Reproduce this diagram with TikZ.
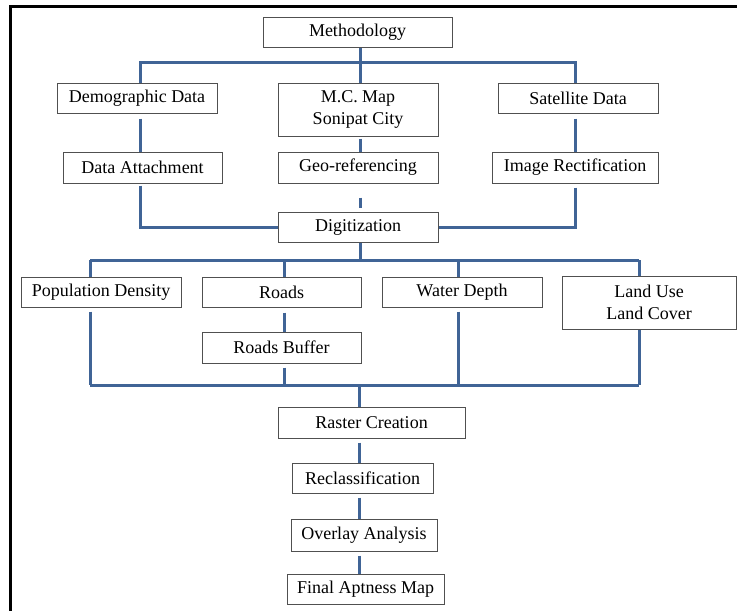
\documentclass[tikz,border=0pt]{standalone}
\usepackage{fontspec}
\setmainfont{Liberation Serif}
\usetikzlibrary{calc,positioning}
\definecolor{linkblue}{RGB}{64,100,150}
\definecolor{boxgray}{RGB}{80,80,80}
\tikzset{
    box/.style={draw=boxgray, line width=1pt, inner sep=0pt, minimum height=30pt,
        align=center, font=\fontsize{18}{21.5}\selectfont},
    link/.style={line width=3pt, color=linkblue},
}

\begin{document}
\begin{tikzpicture}[x=1pt,y=-1pt]
    \useasboundingbox (0,0) rectangle (737,611);

    % Draw frame.
    \draw[line width=3pt] (10,611) -- (10,6) -- (737,6);

    % Draw input boxes.
    \node[box, minimum width=189pt] (meth) at (357.5,32.5) {Methodology};
    \node[box, minimum width=160pt] (demo) at (137,98) {Demographic Data};
    \node[box, minimum width=160pt, minimum height=53pt] (mcmap) at (358,109.5) {M.C. Map\\Sonipat City};
    \node[box, minimum width=160pt] (sat) at (578,98) {Satellite Data};
    \node[box, minimum width=159pt, minimum height=31pt] (attach) at (142.5,167.5) {Data Attachment};
    \node[box, minimum width=160pt, minimum height=31pt] (georef) at (358,167.5) {Geo-referencing};
    \node[box, minimum width=166pt, minimum height=31pt] (rect) at (575,167.5) {Image Rectification};
    \node[box, minimum width=160pt] (digit) at (358,227) {Digitization};

    % Draw layer boxes.
    \node[box, minimum width=160pt] (popd) at (101,292) {Population Density};
    \node[box, minimum width=159pt] (roads) at (281.5,292) {Roads};
    \node[box, minimum width=160pt] (water) at (462,292) {Water Depth};
    \node[box, minimum width=174pt, minimum height=53pt] (landuse) at (649,302.5) {Land Use\\Land Cover};
    \node[box, minimum width=159pt, minimum height=31pt] (roadsbuf) at (281.5,347.5) {Roads Buffer};

    % Draw analysis boxes.
    \node[box, minimum width=187pt, minimum height=31pt] (raster) at (371.5,422.5) {Raster Creation};
    \node[box, minimum width=141pt] (reclass) at (362.5,478) {Reclassification};
    \node[box, minimum width=146pt, minimum height=32pt] (overlay) at (364,535) {Overlay Analysis};
    \node[box, minimum width=157pt] (final) at (365.5,589) {Final Aptness Map};

    % Columns and buses of the connectors.
    \coordinate (colA) at (140,0);
    \coordinate (colB) at (360,0);
    \coordinate (colC) at (575,0);
    \coordinate (colD) at (359,0);
    \coordinate (busA) at (0,62);
    \coordinate (busB) at (0,260);
    \coordinate (busD) at (0,385);
    \foreach \n/\x in {popd/90,roads/284,water/458,landuse/639}
        \coordinate (x\n) at (\x,0);

    % Connect inputs to digitization.
    \draw[link] (colA |- demo.north) -- (colA |- busA) -- (colC |- busA) -- (colC |- sat.north);
    \draw[link] (colB |- meth.south) -- (colB |- mcmap.north);
    \draw[link, shorten <=5pt] (colA |- demo.south) -- (colA |- attach.north);
    \draw[link, shorten <=2pt] (colB |- mcmap.south) -- (colB |- georef.north);
    \draw[link, shorten <=5pt] (colC |- sat.south) -- (colC |- rect.north);
    \draw[link, shorten <=2pt] (colA |- attach.south) |- (digit.west);
    \draw[link, shorten <=4pt] (colC |- rect.south) |- (digit.east);
    \draw[link, shorten <=14pt, shorten >=4pt] (colB |- georef.south) -- (colB |- digit.north);

    % Connect digitization to the layers.
    \draw[link] (digit.south -| colB) -- (colB |- busB);
    \draw[link] (xpopd |- busB) -- (xlanduse |- busB);
    \foreach \n in {popd,roads,water,landuse}
        \draw[link] (x\n |- busB) -- (x\n |- \n.north);
    \draw[link, shorten <=5pt] (xroads |- roads.south) -- (xroads |- roadsbuf.north);

    % Connect the layers to raster creation.
    \draw[link] (xpopd |- busD) -- (xlanduse |- busD);
    \draw[link, shorten <=4pt] (xpopd |- popd.south) -- (xpopd |- busD);
    \draw[link, shorten <=4pt] (xroads |- roadsbuf.south) -- (xroads |- busD);
    \draw[link, shorten <=4pt] (xwater |- water.south) -- (xwater |- busD);
    \draw[link] (xlanduse |- landuse.south) -- (xlanduse |- busD);
    \draw[link] (colD |- busD) -- (colD |- raster.north);
    \foreach \a/\b in {raster/reclass,reclass/overlay,overlay/final}
        \draw[link, shorten <=4pt] (colD |- \a.south) -- (colD |- \b.north);
\end{tikzpicture}
\end{document}
